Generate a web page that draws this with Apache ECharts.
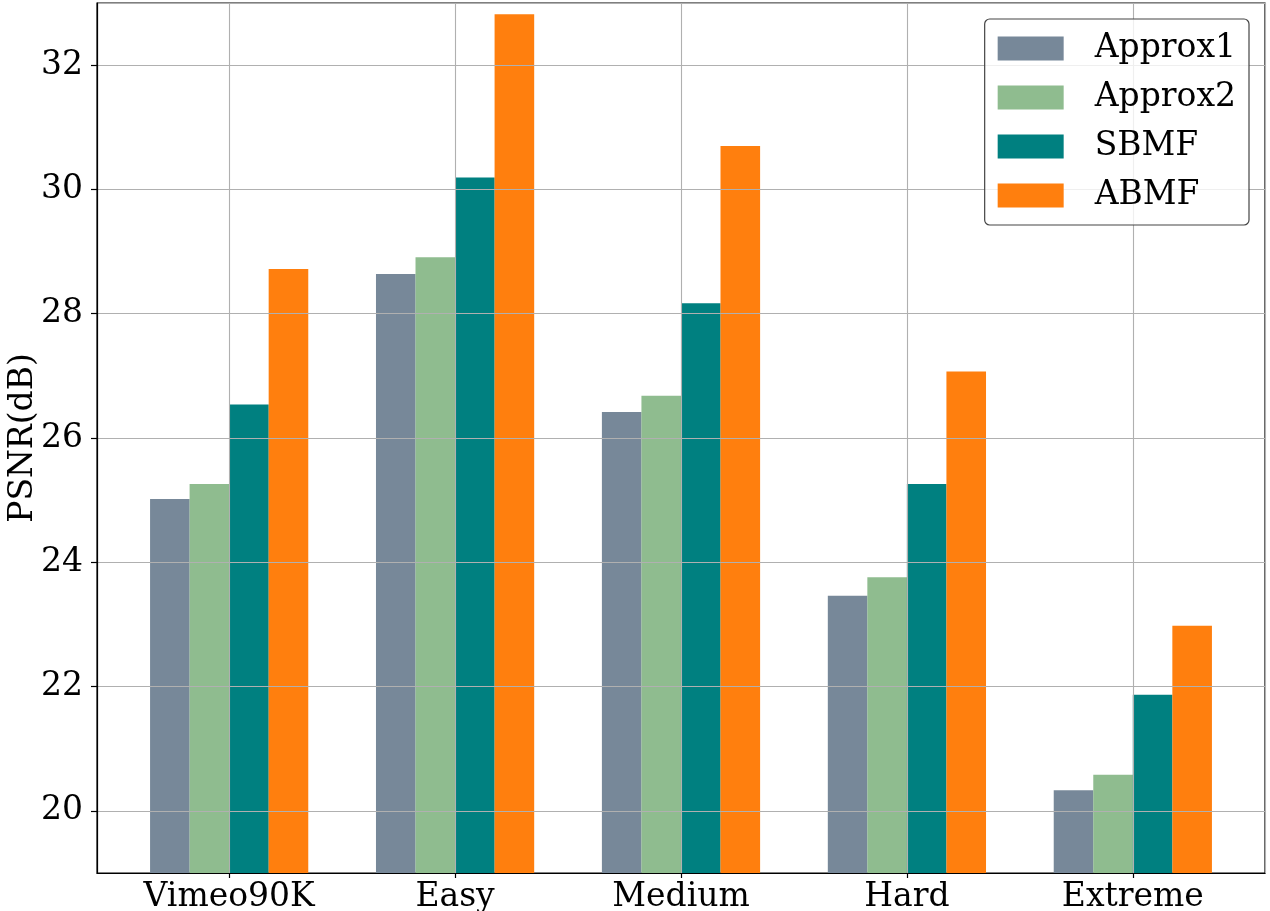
<!DOCTYPE html>
<html>
<head>
<meta charset="utf-8">
<script src="https://cdn.jsdelivr.net/npm/echarts@6/dist/echarts.min.js"></script>
<style>
  html, body { margin: 0; padding: 0; background: #fff; }
  #main { width: 1270px; height: 911px; }
</style>
</head>
<body>
<div id="main"></div>
<script>
var categories = ['Vimeo90K', 'Easy', 'Medium', 'Hard', 'Extreme'];
var approx1 = [25.02, 28.64, 26.42, 23.46, 20.33];
var approx2 = [25.26, 28.91, 26.68, 23.76, 20.58];
var sbmf    = [26.54, 30.19, 28.17, 25.26, 21.87];
var abmf    = [28.72, 32.82, 30.70, 27.07, 22.98];
var seriesNames = ['Approx1', 'Approx2', 'SBMF', 'ABMF'];
var colors = ['#778899', '#8fbc8f', '#008080', '#ff7f0e'];

var myChart = echarts.init(document.getElementById('main'));
var barW = 0.175;   // width of one bar in category units
var serif = 'DejaVu Serif';

// bars sit side by side around each category index on a value x axis
function makeSeries(idx, values) {
  var pts = [];
  for (var i = 0; i < values.length; i++) {
    pts.push([i + (idx - 1.5) * barW, values[i]]);
  }
  return {
    name: seriesNames[idx],
    type: 'bar',
    data: pts,
    barWidth: 39.6,
    barGap: '-100%',
    itemStyle: { color: colors[idx] },
    clip: true
  };
}

var option = {
  animation: false,
  grid: {
    left: 97, right: 5, top: 3, bottom: 38,
    outerBoundsMode: 'none',
    containLabel: false,
    show: true, borderColor: '#000', borderWidth: 1.2
  },
  legend: {
    orient: 'vertical',
    right: 21, top: 19,
    padding: [13, 13, 13, 13],
    itemWidth: 66, itemHeight: 24, itemGap: 16,
    icon: 'rect',
    backgroundColor: 'rgba(255,255,255,0.8)',
    borderColor: '#444', borderWidth: 1.2, borderRadius: 5,
    textStyle: { fontFamily: serif, fontSize: 33, color: '#000', padding: [0, 0, 0, 26] },
    data: seriesNames,
    z: 10
  },
  xAxis: {
    type: 'value',
    min: -0.585, max: 4.585,
    splitNumber: 5, minInterval: 1, maxInterval: 1,
    z: 3,
    axisLine: { show: true, onZero: false, lineStyle: { color: '#000', width: 1.2 } },
    axisTick: { show: true, length: 5, lineStyle: { color: '#000', width: 1.2 } },
    axisLabel: {
      showMinLabel: false, showMaxLabel: false,
      fontFamily: serif, fontSize: 33, color: '#000', margin: 8,
      formatter: function (v) {
        var k = Math.round(v);
        return Math.abs(v - k) < 1e-6 && categories[k] ? categories[k] : '';
      }
    },
    splitLine: { show: true, lineStyle: { color: '#b0b0b0', width: 1.1 } }
  },
  yAxis: {
    type: 'value',
    min: 19, max: 33,
    splitNumber: 7, minInterval: 2, maxInterval: 2,
    z: 3,
    name: 'PSNR(dB)',
    nameLocation: 'middle',
    nameGap: 57,
    nameMoveOverlap: false,
    nameTextStyle: { fontFamily: serif, fontSize: 33, color: '#000' },
    axisLine: { show: true, onZero: false, lineStyle: { color: '#000', width: 1.2 } },
    axisTick: { show: true, length: 6, lineStyle: { color: '#000', width: 1.2 } },
    axisLabel: {
      showMinLabel: false, showMaxLabel: false,
      fontFamily: serif, fontSize: 33, color: '#000', margin: 14
    },
    splitLine: { show: true, lineStyle: { color: '#b0b0b0', width: 1.1 } }
  },
  series: [
    makeSeries(0, approx1),
    makeSeries(1, approx2),
    makeSeries(2, sbmf),
    makeSeries(3, abmf)
  ]
};
myChart.setOption(option);
</script>
</body>
</html>
